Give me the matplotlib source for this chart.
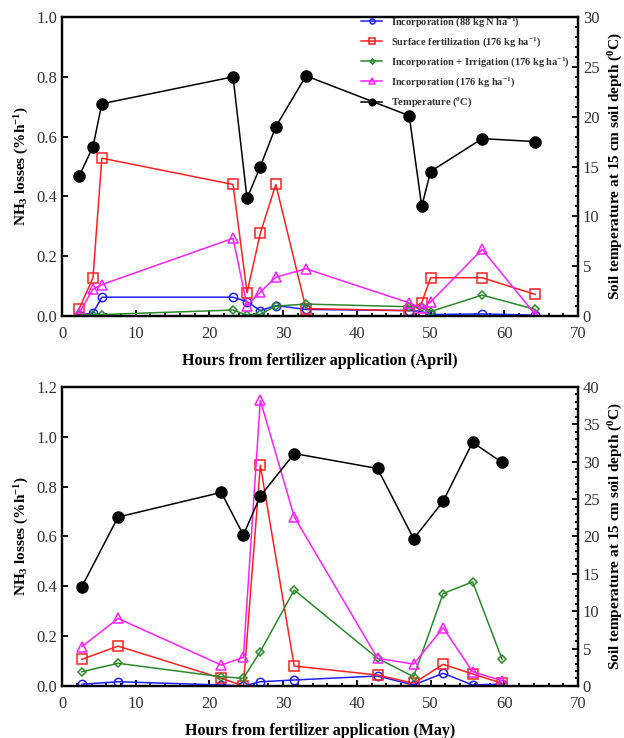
import matplotlib
matplotlib.use("Agg")
import matplotlib.pyplot as plt
from matplotlib.ticker import MultipleLocator

plt.rcParams['font.family'] = ['Liberation Serif', 'DejaVu Serif']
plt.rcParams['mathtext.fontset'] = 'custom'
plt.rcParams['mathtext.rm'] = 'Liberation Serif:bold'
plt.rcParams['mathtext.bf'] = 'Liberation Serif:bold'
plt.rcParams['mathtext.it'] = 'Liberation Serif:bold'
plt.rcParams['mathtext.default'] = 'rm'

# ---- April data ----
apr_hours = [2.3, 4.2, 5.4, 23.2, 25.1, 26.9, 29.0, 33.1, 47.1, 48.8, 50.0, 57.0, 64.2]
apr_inc88 = [0.003, 0.010, 0.063, 0.063, 0.048, 0.018, 0.035, 0.022, 0.018, 0.015, 0.005, 0.007, 0.003]
apr_surface = [0.023, 0.128, 0.528, 0.440, 0.078, 0.277, 0.440, 0.025, 0.018, 0.045, 0.128, 0.128, 0.072]
apr_irrig = [0.003, 0.005, 0.005, 0.020, 0.003, 0.006, 0.033, 0.040, 0.031, 0.030, 0.015, 0.070, 0.022]
apr_inc176 = [0.009, 0.090, 0.105, 0.260, 0.035, 0.080, 0.130, 0.158, 0.044, 0.026, 0.047, 0.223, 0.005]
apr_temp = [14.0, 17.0, 21.3, 24.0, 11.8, 15.0, 19.0, 24.1, 20.1, 11.0, 14.5, 17.8, 17.5]

# ---- May data ----
may_hours = [2.7, 7.6, 21.6, 24.6, 26.9, 31.5, 42.8, 47.7, 51.7, 55.7, 59.7]
may_inc88 = [0.007, 0.017, 0.004, 0.000, 0.017, 0.024, 0.040, 0.004, 0.051, 0.004, 0.008]
may_surface = [0.107, 0.160, 0.031, 0.000, 0.886, 0.080, 0.044, 0.011, 0.087, 0.048, 0.011]
may_irrig = [0.057, 0.091, 0.037, 0.031, 0.138, 0.385, 0.111, 0.037, 0.371, 0.418, 0.107]
may_inc176 = [0.158, 0.271, 0.084, 0.115, 1.147, 0.679, 0.111, 0.088, 0.234, 0.057, 0.021]
may_temp = [13.3, 22.6, 25.9, 20.2, 25.4, 31.1, 29.1, 19.7, 24.7, 32.6, 29.9]

labels = ['Incorporation (88 kg N ha$^{-1}$)',
          'Surface fertilization (176 kg ha$^{-1}$)',
          'Incorporation + Irrigation (176 kg ha$^{-1}$)',
          'Incorporation (176 kg ha$^{-1}$)',
          'Temperature ($^{0}$C)']
colors = ['#1f1fff', '#ff2020', '#2a8a2a', '#ff20ff', 'black']
markers = ['o', 's', 'D', '^', 'o']
msizes = [6, 7, 4.5, 7, 8]

fig = plt.figure(figsize=(6.24, 7.38), dpi=100)
ax_top = fig.add_axes([0.0994, 0.5718, 0.8269, 0.4051])
ax_bot = fig.add_axes([0.0994, 0.0705, 0.8269, 0.4051])


def style(ax, ax2):
    for a in (ax, ax2):
        for s in a.spines.values():
            s.set_linewidth(1.6)
    ax.tick_params(axis='both', which='both', direction='in', labelsize=12, width=1.3)
    ax.tick_params(axis='both', which='major', length=4)
    ax.tick_params(axis='x', which='both', pad=7)
    ax.tick_params(axis='x', which='minor', length=2.5)
    ax.tick_params(axis='y', which='minor', left=False)
    ax2.tick_params(axis='y', which='both', direction='in', labelsize=12, width=1.3)
    ax2.tick_params(axis='y', which='major', length=4)
    ax2.tick_params(axis='y', which='minor', length=2.5)
    for lab in ax.get_xticklabels() + ax.get_yticklabels() + ax2.get_yticklabels():
        lab.set_color('#333333')


def panel(ax, hours, series, temp, ymax, ystep, tmax, tstep, xlabel, legend):
    ax2 = ax.twinx()
    handles = []
    for vals, c, m, ms, lab in zip(series, colors[:4], markers[:4], msizes[:4], labels[:4]):
        h, = ax.plot(hours, vals, color=c, marker=m, markersize=ms, markerfacecolor='none',
                     markeredgecolor=c, markeredgewidth=1.1, linewidth=1.1, label=lab, zorder=3)
        handles.append(h)
    h, = ax2.plot(hours, temp, color='black', marker='o', markersize=msizes[4],
                  linewidth=1.1, label=labels[4], zorder=3)
    handles.append(h)
    ax.set_xlim(0, 70)
    ax.set_ylim(0, ymax)
    ax2.set_ylim(0, tmax)
    ax.xaxis.set_major_locator(MultipleLocator(10))
    ax.xaxis.set_minor_locator(MultipleLocator(2))
    ax.yaxis.set_major_locator(MultipleLocator(ystep))
    ax.yaxis.set_major_formatter(plt.FormatStrFormatter('%.1f'))
    ax2.yaxis.set_major_locator(MultipleLocator(tstep))
    ax2.yaxis.set_minor_locator(MultipleLocator(1))
    ax.set_xlabel(xlabel, fontsize=11.5, fontweight='bold', labelpad=8)
    ax.set_ylabel('NH$_3$ losses (%h$^{-1}$)', fontsize=11, fontweight='bold', labelpad=4)
    ax2.set_ylabel('Soil temperature at 15 cm soil depth ($^{0}$C)', fontsize=11,
                   fontweight='bold', rotation=90, labelpad=5)
    style(ax, ax2)
    if legend:
        leg = ax2.legend(handles, labels, loc='upper left', bbox_to_anchor=(0.568, 1.028),
                         frameon=False, prop={'family': 'Liberation Serif', 'weight': 'bold', 'size': 7.5},
                         handlelength=2.0, handletextpad=0.8, labelspacing=0.6, markerscale=0.6,
                         borderaxespad=0.2)
        for t in leg.get_texts():
            t.set_color('#333333')
    return ax2


panel(ax_top, apr_hours, [apr_inc88, apr_surface, apr_irrig, apr_inc176], apr_temp,
      1.0, 0.2, 30, 5, 'Hours from fertilizer application (April)', True)
panel(ax_bot, may_hours, [may_inc88, may_surface, may_irrig, may_inc176], may_temp,
      1.2, 0.2, 40, 5, 'Hours from fertilizer application (May)', False)

fig.savefig('out.png', dpi=100)
